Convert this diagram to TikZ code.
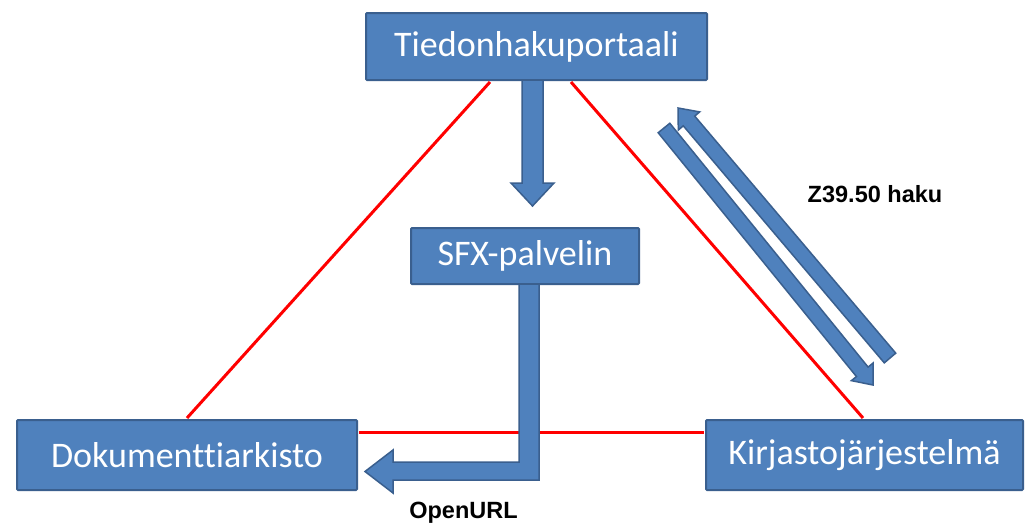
\documentclass[tikz,border=0pt]{standalone}
\usepackage{fontspec}
\setmainfont{Liberation Sans}
\newfontfamily\boxfont[Ligatures={NoCommon}]{Carlito}
\usetikzlibrary{calc}

\definecolor{boxblue}{HTML}{4F81BD}
\definecolor{boxedge}{HTML}{3A5F8E}
\definecolor{linkred}{HTML}{FF0000}

\tikzset{
  sysbox/.style={draw=boxedge, line width=2pt, fill=boxblue, text=white,
    font=\boxfont\fontsize{36}{40}\selectfont, inner sep=0pt, rounded corners=1pt},
  link/.style={draw=linkred, line width=3pt},
  flow/.style={draw=boxedge, line width=1.5pt, fill=boxblue, line join=miter},
  note/.style={font=\bfseries\fontsize{23.5}{27}\selectfont, inner sep=0pt}
}

% straight block arrow: tail, tip, half shaft width, half head width, head length
\newcommand\blockarrow[5]{%
  \coordinate (ba-h) at ($(#2)!#5!(#1)$);
  \path[flow] ($(#1)!#3!90:(#2)$) -- ($(ba-h)!#3!90:(#2)$) -- ($(ba-h)!#4!90:(#2)$)
    -- (#2) -- ($(ba-h)!#4!-90:(#2)$) -- ($(ba-h)!#3!-90:(#2)$)
    -- ($(#1)!#3!-90:(#2)$) -- cycle;}

\begin{document}
\begin{tikzpicture}[x=1pt,y=-1pt]
  \fill[white] (0,0) rectangle (1028,525);
  \useasboundingbox (0,0) rectangle (1028,525);

  % systems
  \node[sysbox, minimum width=341pt, minimum height=67pt] (portal) at (536.5,46.5) {Tiedonhakuportaali};
  \node[sysbox, minimum width=228pt, minimum height=56pt] (sfx) at (525,256) {SFX-palvelin};
  \node[sysbox, minimum width=340pt, minimum height=70pt] (dok) at (187,455) {Dokumenttiarkisto};
  \node[sysbox, minimum width=317pt, minimum height=70pt] (kir) at (864.5,455) {Kirjastojärjestelmä};

  % links between the systems
  \draw[link] ([xshift=-46.5pt,yshift=-1pt]portal.south) -- ([yshift=1pt]dok.north);
  \draw[link] ([xshift=34.5pt,yshift=-1pt]portal.south) -- ([xshift=-1.5pt,yshift=1pt]kir.north);
  \draw[link] ([xshift=1pt,yshift=23pt]dok.east) -- ([xshift=-1pt,yshift=23pt]kir.west);

  % portal to SFX
  \coordinate (dtail) at ([xshift=-4pt,yshift=1pt]portal.south);
  \coordinate (dtip) at ($(dtail)+(0,126)$);
  \blockarrow{dtail}{dtip}{10.5pt}{21.5pt}{23pt}

  % SFX to document archive (OpenURL)
  \coordinate (ea) at ([xshift=4pt,yshift=1pt]sfx.south);
  \coordinate (etip) at ([xshift=7pt,yshift=-16.5pt]dok.east);
  \path[flow] ($(ea)+(10,0)$) -- ($(ea |- etip)+(10,8.5)$) -- ($(etip)+(28,8.5)$)
    -- ($(etip)+(28,21.5)$) -- (etip) -- ($(etip)+(28,-21.5)$) -- ($(etip)+(28,-9.5)$)
    -- ($(ea |- etip)+(-10,-9.5)$) -- ($(ea)+(-10,0)$) -- cycle;

  % Z39.50 search and response
  \coordinate (zuptail) at (890,358);
  \coordinate (zuptip) at (678,108);
  \coordinate (zdowntail) at (664,128);
  \coordinate (zdowntip) at (873,385);
  \blockarrow{zuptail}{zuptip}{7.5pt}{14pt}{17pt}
  \blockarrow{zdowntail}{zdowntip}{7.5pt}{14pt}{17pt}

  % labels
  \node[note, anchor=base] (zlabel) at (875,202) {Z39.50 haku};
  \node[note, anchor=base] (olabel) at (463.5,518) {OpenURL};
\end{tikzpicture}
\end{document}
